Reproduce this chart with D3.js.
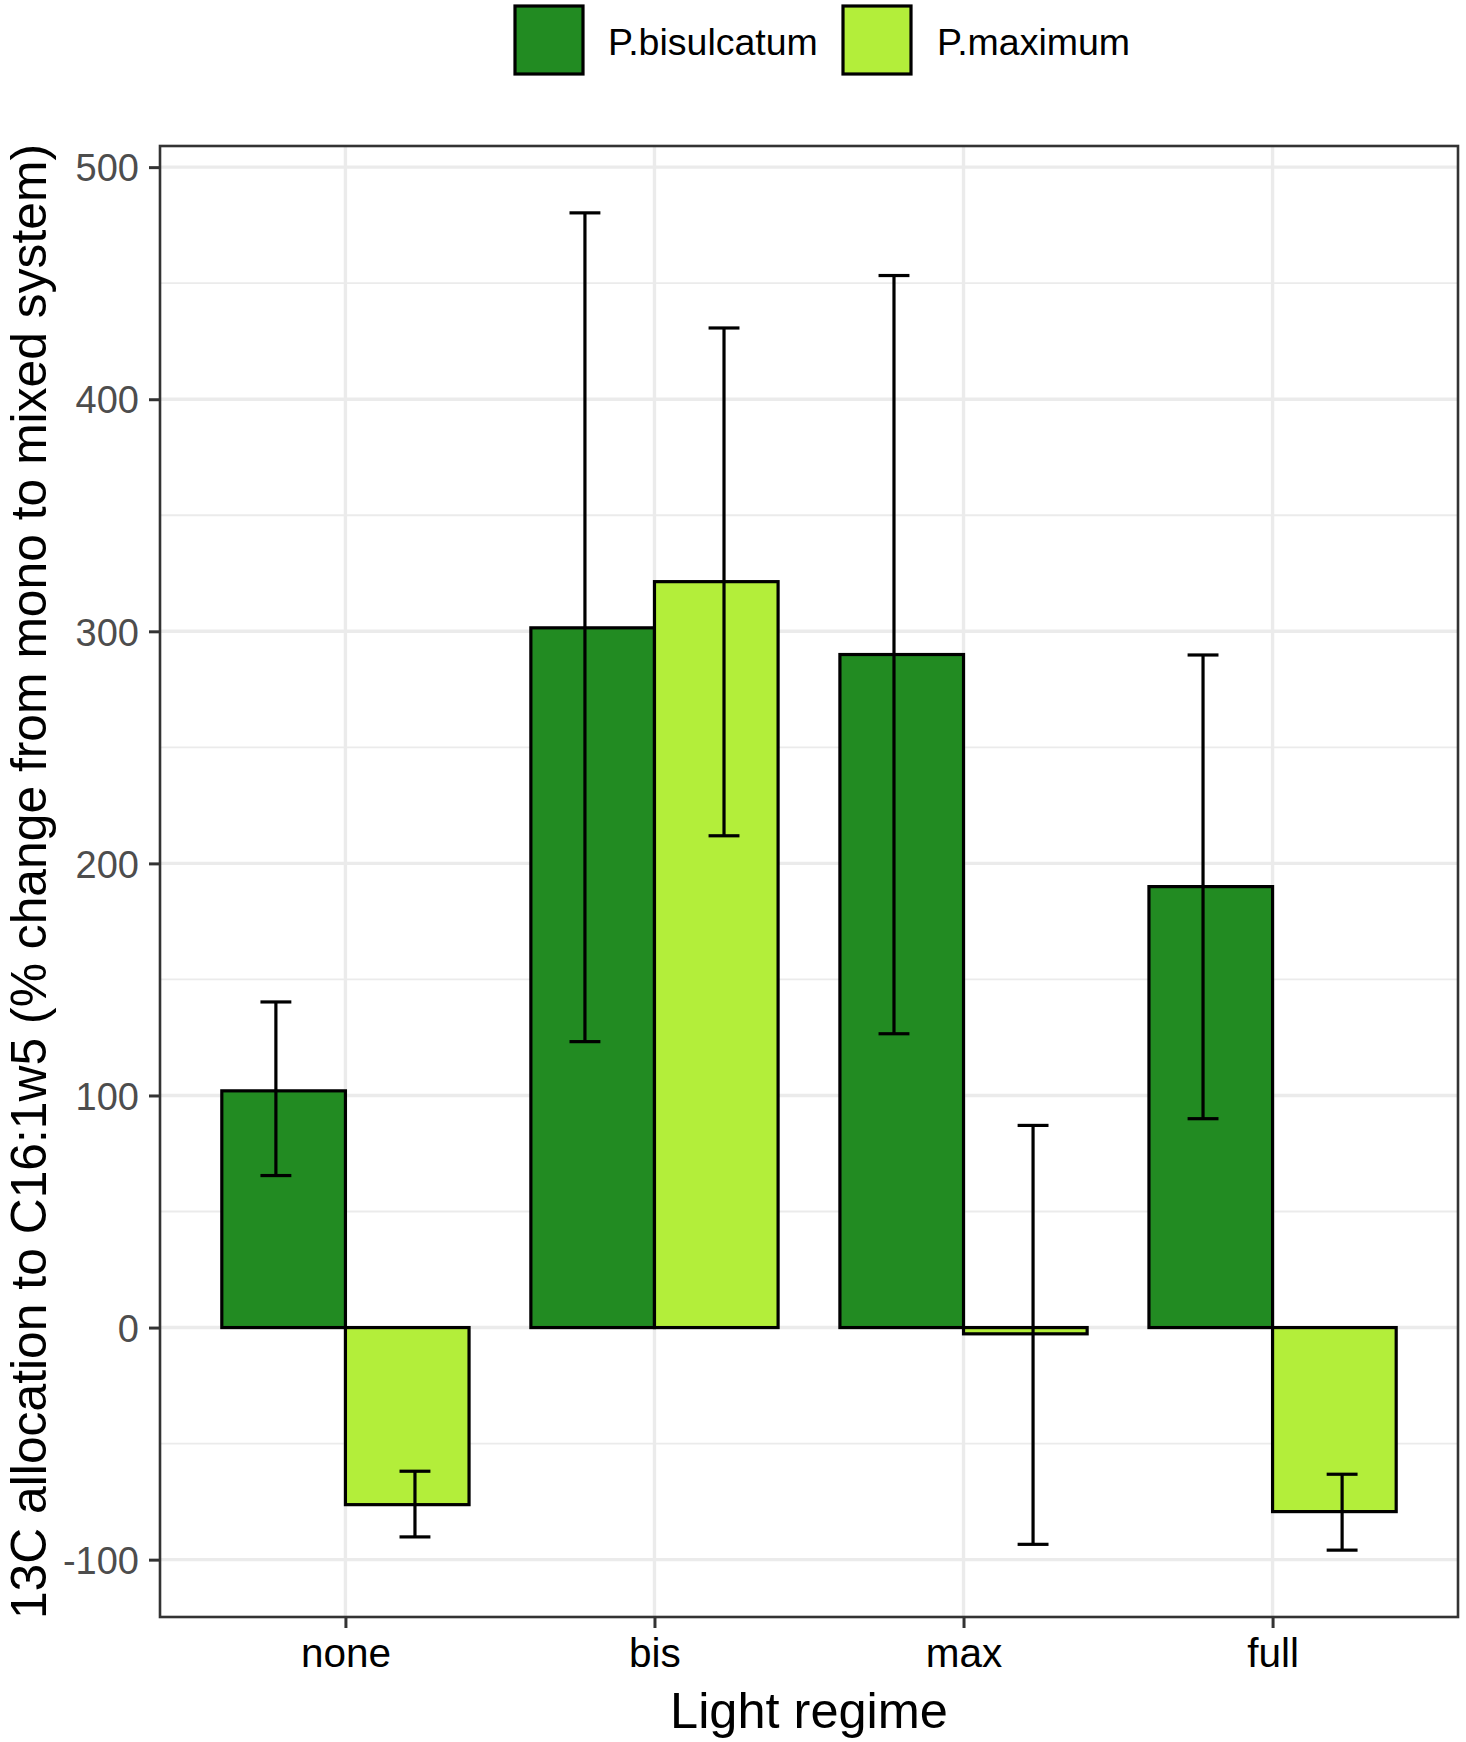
<!DOCTYPE html>
<html>
<head>
<meta charset="utf-8">
<script src="https://cdn.jsdelivr.net/npm/d3@7"></script>
<style>
  html, body { margin: 0; padding: 0; background: #fff; }
  svg { display: block; }
  text { font-family: "Liberation Sans", Arial, sans-serif; }
</style>
</head>
<body>
<svg id="chart" width="1466" height="1742"></svg>
<script>
// ---- Data ----
const categories = ["none", "bis", "max", "full"];
const seriesNames = ["P.bisulcatum", "P.maximum"];
const seriesColors = ["#228B22", "#B3EE3A"];
const bisulcatum = [102, 301.5, 290, 190];
const bisulcatumLow = [65.5, 123.2, 126.6, 90];
const bisulcatumHigh = [140.3, 480.3, 453.3, 289.8];
const maximum = [-76.3, 321.4, -2.7, -79.3];
const maximumLow = [-90.2, 211.9, -93.4, -95.9];
const maximumHigh = [-61.9, 430.7, 87.1, -63.2];
const yTicks = [-100, 0, 100, 200, 300, 400, 500];
const yMinorTicks = [-50, 50, 150, 250, 350, 450];
const xTitle = "Light regime";
const yTitle = "13C allocation to C16:1w5 (% change from mono to mixed system)";

// ---- Layout ----
const svg = d3.select("#chart");
const panel = { left: 160, right: 1458, top: 146, bottom: 1617 };

const rows = [];
categories.forEach((c, i) => {
  rows.push({ cat: c, s: 0, v: bisulcatum[i], lo: bisulcatumLow[i], hi: bisulcatumHigh[i] });
  rows.push({ cat: c, s: 1, v: maximum[i], lo: maximumLow[i], hi: maximumHigh[i] });
});

const allVals = rows.flatMap(r => [r.v, r.lo, r.hi, 0]);
const dmin = d3.min(allVals), dmax = d3.max(allVals);
const pad = (dmax - dmin) * 0.05;

const x = d3.scalePoint().domain(categories).range([panel.left, panel.right]).padding(0.6);
const step = x.step();
const y = d3.scaleLinear().domain([dmin - pad, dmax + pad]).range([panel.bottom, panel.top]);

const g = svg.append("g");

g.append("rect").attr("x", panel.left).attr("y", panel.top)
  .attr("width", panel.right - panel.left).attr("height", panel.bottom - panel.top)
  .attr("fill", "#fff");

// minor grid
g.selectAll(".minor").data(yMinorTicks).join("line")
  .attr("x1", panel.left).attr("x2", panel.right)
  .attr("y1", d => y(d)).attr("y2", d => y(d))
  .attr("stroke", "#EBEBEB").attr("stroke-width", 1.8);
// major grid
g.selectAll(".major").data(yTicks).join("line")
  .attr("x1", panel.left).attr("x2", panel.right)
  .attr("y1", d => y(d)).attr("y2", d => y(d))
  .attr("stroke", "#EBEBEB").attr("stroke-width", 3.4);
g.selectAll(".vmajor").data(categories).join("line")
  .attr("x1", d => x(d)).attr("x2", d => x(d))
  .attr("y1", panel.top).attr("y2", panel.bottom)
  .attr("stroke", "#EBEBEB").attr("stroke-width", 3.4);

// bars
const barW = step * 0.4;
g.selectAll(".bar").data(rows).join("rect")
  .attr("x", d => x(d.cat) + (d.s === 0 ? -barW : 0))
  .attr("width", barW)
  .attr("y", d => y(Math.max(0, d.v)))
  .attr("height", d => Math.abs(y(d.v) - y(0)))
  .attr("fill", d => seriesColors[d.s])
  .attr("stroke", "#000").attr("stroke-width", 3.2);

// error bars
const eOff = step * 0.225;
const capHalf = step * 0.05;
const eb = g.selectAll(".eb").data(rows).join("g")
  .attr("transform", d => `translate(${x(d.cat) + (d.s === 0 ? -eOff : eOff)},0)`);
eb.append("line").attr("x1", 0).attr("x2", 0)
  .attr("y1", d => y(d.lo)).attr("y2", d => y(d.hi))
  .attr("stroke", "#000").attr("stroke-width", 3.2);
eb.append("line").attr("x1", -capHalf).attr("x2", capHalf)
  .attr("y1", d => y(d.lo)).attr("y2", d => y(d.lo))
  .attr("stroke", "#000").attr("stroke-width", 3.2);
eb.append("line").attr("x1", -capHalf).attr("x2", capHalf)
  .attr("y1", d => y(d.hi)).attr("y2", d => y(d.hi))
  .attr("stroke", "#000").attr("stroke-width", 3.2);

// panel border
g.append("rect").attr("x", panel.left).attr("y", panel.top)
  .attr("width", panel.right - panel.left).attr("height", panel.bottom - panel.top)
  .attr("fill", "none").attr("stroke", "#333333").attr("stroke-width", 2.6);

// axes
const yAxis = d3.axisLeft(y).tickValues(yTicks).tickSize(11).tickPadding(10).tickFormat(d => String(d));
const ya = svg.append("g").attr("transform", `translate(${panel.left},0)`).call(yAxis);
ya.select(".domain").remove();
ya.selectAll(".tick line").attr("stroke", "#333333").attr("stroke-width", 3);
ya.selectAll(".tick text").attr("fill", "#4D4D4D").attr("font-size", 38)
  .attr("font-family", "Liberation Sans, Arial, sans-serif").attr("dy", "0.36em");

const xAxis = d3.axisBottom(x).tickSize(11).tickPadding(10);
const xa = svg.append("g").attr("transform", `translate(0,${panel.bottom})`).call(xAxis);
xa.select(".domain").remove();
xa.selectAll(".tick line").attr("stroke", "#333333").attr("stroke-width", 3);
xa.selectAll(".tick text").attr("fill", "#000").attr("font-size", 40.5)
  .attr("font-family", "Liberation Sans, Arial, sans-serif").attr("dy", "0.71em");

// titles
svg.append("text").attr("x", (panel.left + panel.right) / 2).attr("y", 1728)
  .attr("text-anchor", "middle").attr("font-size", 50.5).attr("fill", "#000").text(xTitle);
svg.append("text")
  .attr("transform", `translate(46,${(panel.top + panel.bottom) / 2}) rotate(-90)`)
  .attr("text-anchor", "middle").attr("font-size", 49.8).attr("fill", "#000").text(yTitle);

// legend
const legendKeys = [{ x: 515, tx: 608 }, { x: 843, tx: 937 }];
const lg = svg.append("g").selectAll("g").data(seriesNames).join("g");
lg.append("rect")
  .attr("x", (d, i) => legendKeys[i].x).attr("y", 6)
  .attr("width", 68).attr("height", 68)
  .attr("fill", (d, i) => seriesColors[i])
  .attr("stroke", "#000").attr("stroke-width", 3.2);
lg.append("text")
  .attr("x", (d, i) => legendKeys[i].tx).attr("y", 41)
  .attr("dy", "0.36em").attr("font-size", 37.5).attr("fill", "#000")
  .text(d => d);
</script>
</body>
</html>
